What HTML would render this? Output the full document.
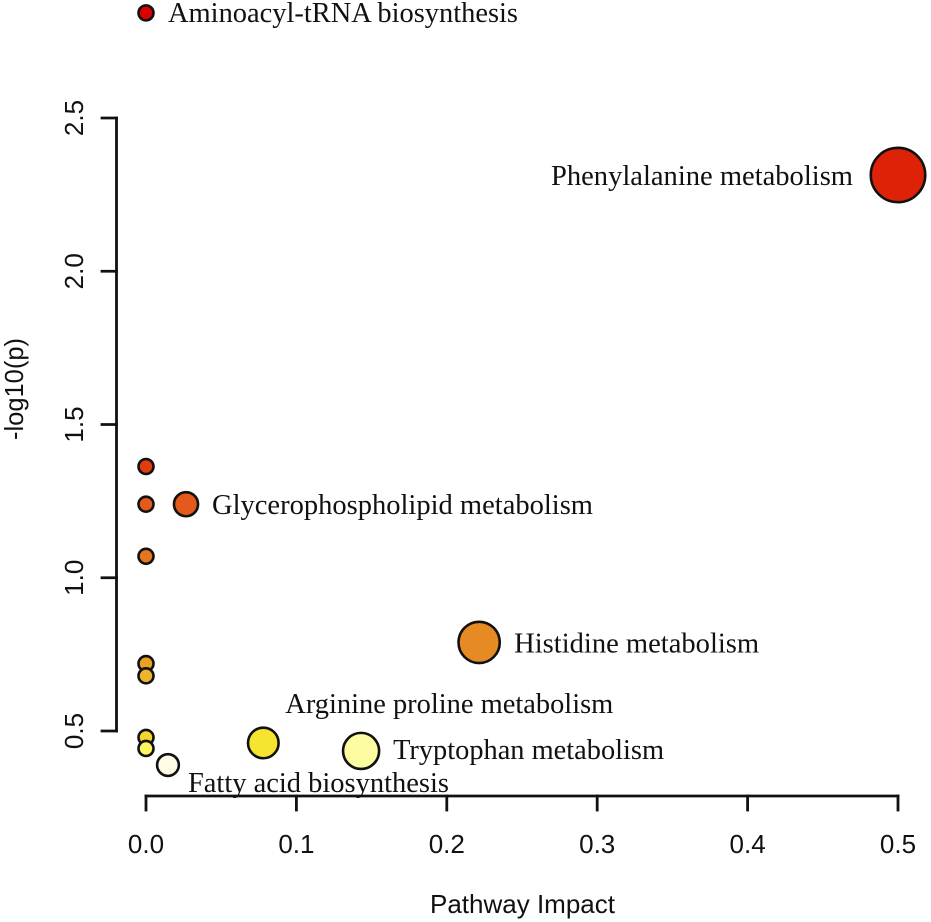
<!DOCTYPE html>
<html lang="en">
<head>
<meta charset="utf-8">
<title>Pathway Impact Chart</title>
<style>
  html, body { margin: 0; padding: 0; background: #fff; }
  svg { display: block; }
  .sans { font-family: "Liberation Sans", sans-serif; fill: #111; }
  .serif { font-family: "Liberation Serif", serif; fill: #111; font-size: 28.5px; }
</style>
</head>
<body>
<svg id="chart" xmlns="http://www.w3.org/2000/svg" width="931" height="922" viewBox="0 0 931 922"></svg>
<script>
const pathwayNames = ["Aminoacyl-tRNA biosynthesis", "Phenylalanine metabolism", "", "", "Glycerophospholipid metabolism", "", "Histidine metabolism", "", "", "", "Arginine proline metabolism", "", "Tryptophan metabolism", "Fatty acid biosynthesis"];
const impactValues = [0, 0.5, 0, 0, 0.0266, 0, 0.2215, 0, 0, 0, 0.078, 0, 0.143, 0.0146];
const logPValues = [2.843, 2.314, 1.363, 1.24, 1.24, 1.07, 0.789, 0.72, 0.68, 0.479, 0.461, 0.443, 0.435, 0.389];
const xTickValues = [0, 0.1, 0.2, 0.3, 0.4, 0.5];
const yTickValues = [0.5, 1, 1.5, 2, 2.5];
const xTickLabels = ["0.0", "0.1", "0.2", "0.3", "0.4", "0.5"];
const yTickLabels = ["0.5", "1.0", "1.5", "2.0", "2.5"];

const NS = "http://www.w3.org/2000/svg";
const svg = document.getElementById("chart");
const xScale = v => 146 + v * 1504;
const yScale = v => 731 - (v - 0.5) * 306.5;
const radiusScale = impact => 7.5 + 27.9 * Math.sqrt(impact);

const heatStops = [
  [0.389, [254, 252, 228]], [0.435, [253, 252, 160]], [0.443, [251, 245, 94]],
  [0.461, [247, 228, 49]], [0.479, [245, 213, 46]], [0.68, [237, 181, 42]],
  [0.72, [232, 160, 37]], [0.789, [230, 138, 36]], [1.07, [229, 118, 30]],
  [1.24, [227, 90, 26]], [1.363, [225, 60, 12]], [2.314, [221, 34, 8]], [2.843, [217, 0, 0]]
];
function heatColor(v) {
  if (v <= heatStops[0][0]) return "rgb(" + heatStops[0][1].join(",") + ")";
  for (let i = 1; i < heatStops.length; i++) {
    if (v <= heatStops[i][0]) {
      const a = heatStops[i - 1], b = heatStops[i];
      const t = (v - a[0]) / (b[0] - a[0]);
      const c = a[1].map((n, k) => Math.round(n + (b[1][k] - n) * t));
      return "rgb(" + c.join(",") + ")";
    }
  }
  return "rgb(" + heatStops[heatStops.length - 1][1].join(",") + ")";
}

const labelOffsets = {
  "Aminoacyl-tRNA biosynthesis": { dx: 22, dy: 9, width: 350 },
  "Phenylalanine metabolism": { dx: -347, dy: 10, width: 302 },
  "Glycerophospholipid metabolism": { dx: 26, dy: 10, width: 381 },
  "Histidine metabolism": { dx: 35, dy: 10, width: 245 },
  "Arginine proline metabolism": { dx: 22, dy: -30, width: 328 },
  "Tryptophan metabolism": { dx: 32, dy: 8, width: 271 },
  "Fatty acid biosynthesis": { dx: 20, dy: 27, width: 261 }
};

function line(x1, y1, x2, y2) {
  const el = document.createElementNS(NS, "line");
  el.setAttribute("x1", x1);
  el.setAttribute("y1", y1);
  el.setAttribute("x2", x2);
  el.setAttribute("y2", y2);
  el.setAttribute("stroke", "#111");
  el.setAttribute("stroke-width", "2.8");
  el.setAttribute("stroke-linecap", "square");
  svg.appendChild(el);
  return el;
}
function text(content, x, y, cls) {
  const el = document.createElementNS(NS, "text");
  el.setAttribute("x", x);
  el.setAttribute("y", y);
  el.setAttribute("class", cls);
  el.textContent = content;
  svg.appendChild(el);
  return el;
}

// x axis
const xAxisY = 796;
const xAxisLine = line(xScale(xTickValues[0]), xAxisY, xScale(xTickValues[xTickValues.length - 1]), xAxisY);


xTickValues.forEach((v, i) => {
  const tick = line(xScale(v), xAxisY, xScale(v), 810);
  
  
  const lab = text(xTickLabels[i], xScale(v), 853, "sans");
  lab.setAttribute("text-anchor", "middle");
  lab.setAttribute("font-size", "26");
  
  
});

// y axis
const yAxisX = 116.5;
const yAxisLine = line(yAxisX, yScale(yTickValues[0]), yAxisX, yScale(yTickValues[yTickValues.length - 1]));


yTickValues.forEach((v, i) => {
  const tick = line(yAxisX, yScale(v), 102, yScale(v));
  
  
  const lab = text(yTickLabels[i], 83, yScale(v), "sans");
  lab.setAttribute("text-anchor", "middle");
  lab.setAttribute("font-size", "26");
  lab.setAttribute("transform", "rotate(-90 83 " + yScale(v) + ")");
  
  
});

// axis titles
const xTitle = text("Pathway Impact", 522.5, 913, "sans");
xTitle.setAttribute("text-anchor", "middle");
xTitle.setAttribute("font-size", "26");
xTitle.setAttribute("textLength", "185");
xTitle.setAttribute("lengthAdjust", "spacingAndGlyphs");



const yTitle = text("-log10(p)", 23, 389, "sans");
yTitle.setAttribute("text-anchor", "middle");
yTitle.setAttribute("font-size", "26");
yTitle.setAttribute("textLength", "102");
yTitle.setAttribute("lengthAdjust", "spacingAndGlyphs");
yTitle.setAttribute("transform", "rotate(-90 23 389)");



// points
impactValues.forEach((impact, i) => {
  const c = document.createElementNS(NS, "circle");
  c.setAttribute("cx", xScale(impact));
  c.setAttribute("cy", yScale(logPValues[i]));
  c.setAttribute("r", radiusScale(impact));
  c.setAttribute("fill", heatColor(logPValues[i]));
  c.setAttribute("stroke", "#111");
  c.setAttribute("stroke-width", "2.6");
  
  
  svg.appendChild(c);
});

// labels
pathwayNames.forEach((name, i) => {
  if (!name) return;
  const off = labelOffsets[name];
  const t = text(name, xScale(impactValues[i]) + off.dx, yScale(logPValues[i]) + off.dy, "serif");
  t.setAttribute("textLength", off.width);
  t.setAttribute("lengthAdjust", "spacingAndGlyphs");
  
  
});
</script>
</body>
</html>
